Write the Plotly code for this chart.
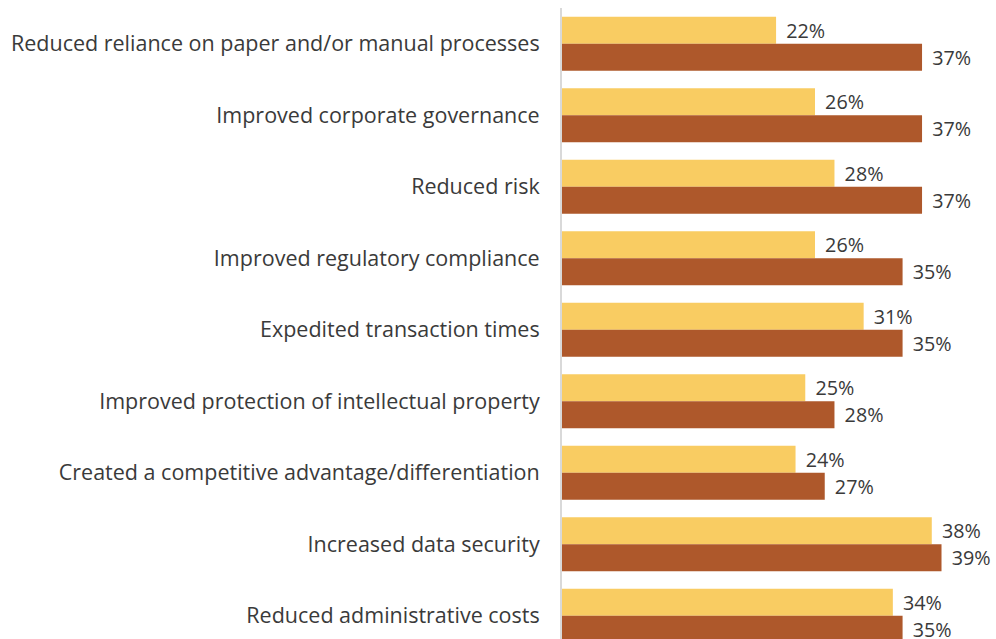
import plotly.graph_objects as go

categories = [
    "Reduced reliance on paper and/or manual processes",
    "Improved corporate governance",
    "Reduced risk",
    "Improved regulatory compliance",
    "Expedited transaction times",
    "Improved protection of intellectual property",
    "Created a competitive advantage/differentiation",
    "Increased data security",
    "Reduced administrative costs",
]
series_a = [22, 26, 28, 26, 31, 25, 24, 38, 34]
series_b = [37, 37, 37, 35, 35, 28, 27, 39, 35]

FONT = "Open Sans"
TXT = "#3a3a3a"
PAD = "\u00a0\u200a"

fig = go.Figure()
fig.add_trace(go.Bar(
    y=categories, x=series_a, orientation="h",
    marker=dict(color="#F9CC62", line=dict(width=0)),
    text=[f"{PAD}{v}%" for v in series_a], textposition="outside",
    textfont=dict(family=FONT, size=20.5, color=TXT), cliponaxis=False,
))
fig.add_trace(go.Bar(
    y=categories, x=series_b, orientation="h",
    marker=dict(color="#AE582B", line=dict(width=0)),
    text=[f"{PAD}{v}%" for v in series_b], textposition="outside",
    textfont=dict(family=FONT, size=20.5, color=TXT), cliponaxis=False,
))
fig.update_layout(
    width=996, height=639,
    margin=dict(l=562, r=0, t=8, b=0),
    barmode="group", bargap=0.245, bargroupgap=0,
    plot_bgcolor="white", paper_bgcolor="white",
    showlegend=False,
    font=dict(family=FONT, size=20, color=TXT),
)
fig.update_xaxes(range=[0, 44.6], visible=False, showgrid=False, zeroline=False)
fig.update_yaxes(
    type="category", categoryorder="array", categoryarray=categories,
    range=[8.325, -0.5], showgrid=False, zeroline=False,
    showline=True, linecolor="#d9d9d9", linewidth=2,
    ticks="", ticklabelstandoff=16,
    tickfont=dict(family=FONT, size=21.5, color=TXT),
)
fig.write_html(
    "out.html",
    config={"displayModeBar": False},
    post_script="document.body.style.margin='0';document.body.style.overflow='hidden';",
)
